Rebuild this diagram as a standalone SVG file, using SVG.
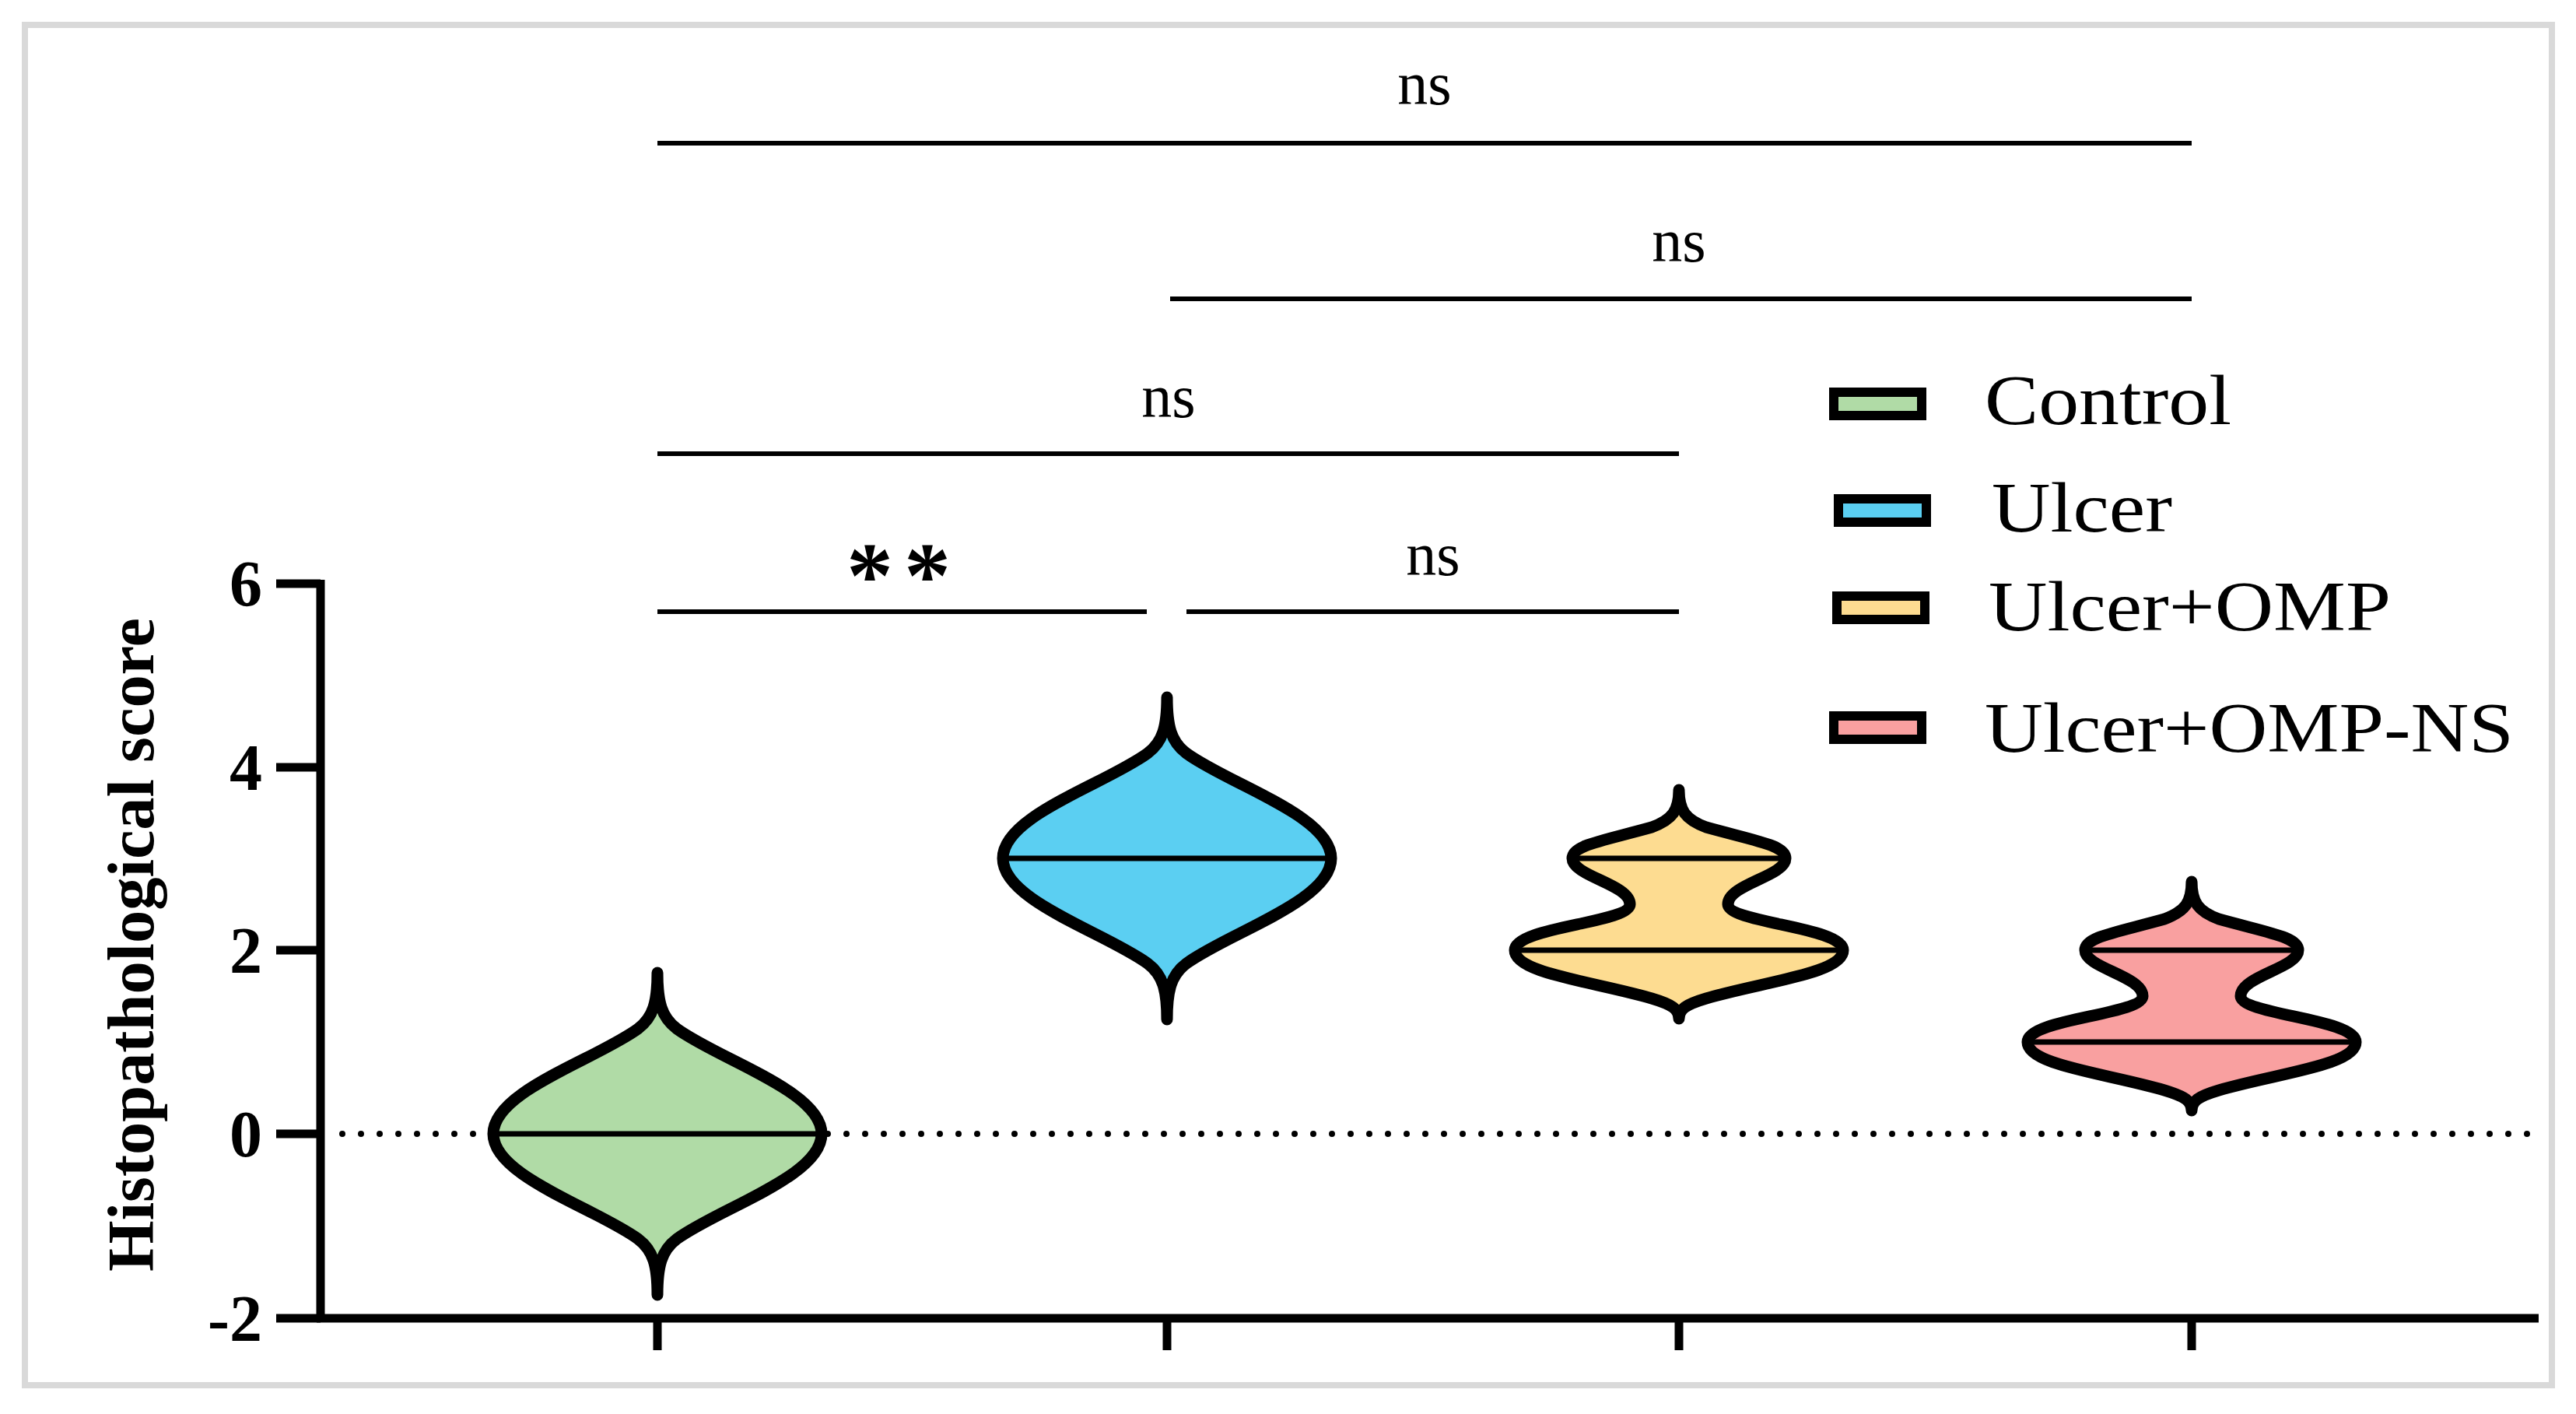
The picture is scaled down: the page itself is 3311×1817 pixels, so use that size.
<svg xmlns="http://www.w3.org/2000/svg" width="3311" height="1817" viewBox="0 0 3311 1817">
<style>
.ax{stroke:#000;stroke-width:11;fill:none}
.br{stroke:#000;stroke-width:6;fill:none}
.vi{stroke:#000;stroke-width:15;stroke-linejoin:round}
.md{stroke:#000;stroke-width:7}
.ns{font-family:"Liberation Serif",serif;font-size:78px;text-anchor:middle}
.tk{font-family:"Liberation Serif",serif;font-size:84px;font-weight:bold;text-anchor:end}
.lg{font-family:"Liberation Serif",serif;font-size:90px}
.lb{stroke:#000;stroke-width:12}
</style>
<defs>
<path id="uni" d="M0,-207 C0,-170 5,-150 25,-135 C80,-95 211,-55 211,0 C211,55 80,95 25,135 C5,150 0,170 0,207 C0,170 -5,150 -25,135 C-80,95 -211,55 -211,0 C-211,-55 -80,-95 -25,-135 C-5,-150 0,-170 0,-207 Z"/>
<path id="bi" d="M0,-206 C0,-180 8,-168 35,-158 C100,-140 137,-135 137,-118 C137,-95 63,-85 63,-59 C63,-35 211,-30 211,0 C211,30 110,40 35,62 C8,70 0,76 0,88 C0,76 -8,70 -35,62 C-110,40 -211,30 -211,0 C-211,-30 -63,-35 -63,-59 C-63,-85 -137,-95 -137,-118 C-137,-135 -100,-140 -35,-158 C-8,-168 0,-180 0,-206 Z"/>
</defs>
<rect x="32" y="32" width="3248" height="1748" fill="#fff" stroke="#d9d9d9" stroke-width="8"/>
<g id="axes">
<line class="ax" x1="412" y1="745" x2="412" y2="1699"/>
<line class="ax" x1="407" y1="1694" x2="3263" y2="1694"/>
<path class="ax" d="M355,750H412M355,986H412M355,1221H412M355,1457H412M355,1694H412"/>
<path class="ax" d="M845,1694V1735M1500,1694V1735M2158,1694V1735M2817,1694V1735"/>
<line x1="440" y1="1457" x2="3263" y2="1457" stroke="#000" stroke-width="8" stroke-linecap="round" stroke-dasharray="0 24"/>
<text class="tk" x="337" y="779">6</text>
<text class="tk" x="337" y="1015">4</text>
<text class="tk" x="337" y="1250">2</text>
<text class="tk" x="337" y="1486">0</text>
<text class="tk" x="337" y="1723">-2</text>
<text transform="translate(197,1214) rotate(-90)" font-family="Liberation Serif,serif" font-size="84" font-weight="bold" text-anchor="middle" textLength="840" lengthAdjust="spacingAndGlyphs">Histopathological score</text>
</g>
<g id="control"><use href="#uni" transform="translate(845,1457)" class="vi" fill="#b0dba6"/><line class="md" x1="640" y1="1457" x2="1050" y2="1457"/></g>
<g id="ulcer"><use href="#uni" transform="translate(1500,1103)" class="vi" fill="#5bcff2"/><line class="md" x1="1295" y1="1103" x2="1705" y2="1103"/></g>
<g id="ulcer-omp"><use href="#bi" transform="translate(2158,1221)" class="vi" fill="#fddc91"/><line class="md" x1="2027" y1="1103" x2="2289" y2="1103"/><line class="md" x1="1953" y1="1221" x2="2363" y2="1221"/></g>
<g id="ulcer-omp-ns"><use href="#bi" transform="translate(2817,1339)" class="vi" fill="#f9a0a0"/><line class="md" x1="2686" y1="1221" x2="2948" y2="1221"/><line class="md" x1="2612" y1="1339" x2="3022" y2="1339"/></g>
<g id="connectors">
<line class="br" x1="845" y1="184" x2="2817" y2="184"/>
<line class="br" x1="1504" y1="384" x2="2817" y2="384"/>
<line class="br" x1="845" y1="583" x2="2158" y2="583"/>
<line class="br" x1="845" y1="786" x2="1474" y2="786"/>
<line class="br" x1="1525" y1="786" x2="2158" y2="786"/>
<text class="ns" x="1831" y="134">ns</text>
<text class="ns" x="2158" y="336">ns</text>
<text class="ns" x="1502" y="536">ns</text>
<text class="ns" x="1842" y="739">ns</text>
<text x="1162" y="780" font-family="Liberation Serif,serif" font-size="120" font-weight="bold" text-anchor="middle" letter-spacing="14">**</text>
</g>
<g id="legend">
<rect class="lb" x="2357" y="504" width="113" height="30" fill="#b0dba6"/>
<rect class="lb" x="2363" y="641" width="113" height="30" fill="#5bcff2"/>
<rect class="lb" x="2361" y="766" width="113" height="30" fill="#fddc91"/>
<rect class="lb" x="2357" y="920" width="113" height="30" fill="#f9a0a0"/>
<text class="lg" x="2551" y="545" textLength="317" lengthAdjust="spacingAndGlyphs">Control</text>
<text class="lg" x="2560" y="683" textLength="232" lengthAdjust="spacingAndGlyphs">Ulcer</text>
<text class="lg" x="2556" y="810" textLength="517" lengthAdjust="spacingAndGlyphs">Ulcer+OMP</text>
<text class="lg" x="2551" y="966" textLength="680" lengthAdjust="spacingAndGlyphs">Ulcer+OMP-NS</text>
</g>
</svg>
